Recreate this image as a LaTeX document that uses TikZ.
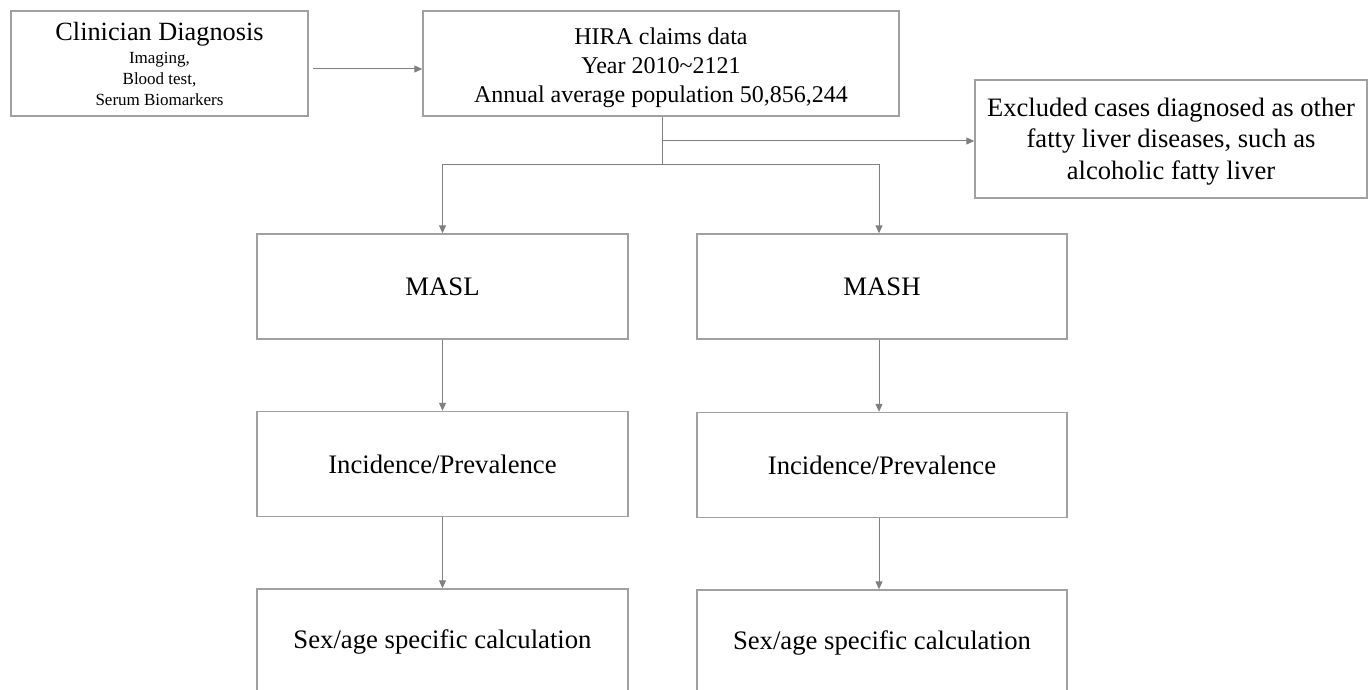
\documentclass[tikz,border=0pt]{standalone}
\usepackage{fontspec}
\setmainfont{Liberation Serif}
\usetikzlibrary{arrows.meta}
\definecolor{boxline}{RGB}{160,160,160}
\definecolor{arrline}{RGB}{128,128,128}
\tikzset{
  box/.style={draw=boxline, line width=1.4pt, rectangle, inner sep=0pt, align=center, text=black},
  arr/.style={draw=arrline, line width=1pt, -{Triangle[length=8pt,width=7pt]}},
  ln/.style={draw=arrline, line width=1pt},
  big/.style={font=\fontsize{26.7}{31}\selectfont},
}
\begin{document}
\begin{tikzpicture}[x=1pt,y=-1pt]
\useasboundingbox (0,0) rectangle (1370,690);
\clip (0,0) rectangle (1370,690);
\node[box, font=\fontsize{17}{21}\selectfont, minimum width=297, minimum height=105] (clin) at (159.5,63.5)
  {{\fontsize{26.3}{28}\selectfont Clinician Diagnosis}\\[2pt]
   Imaging,\\
   Blood test,\\
   Serum Biomarkers};
\node[box, minimum width=476, minimum height=105,
  label={[align=center, font=\fontsize{24}{29}\selectfont, yshift=-4pt]center:HIRA claims data\\Year 2010\textasciitilde2121\\Annual average population 50,856,244}] (hira) at (661,63.5) {};
\node[box, minimum width=392, minimum height=118,
  label={[align=center, font=\fontsize{26.6}{31.5}\selectfont, yshift=-2.5pt]center:Excluded cases diagnosed as other\\fatty liver diseases, such as\\alcoholic fatty liver}] (excl) at (1171,139) {};
\node[box, big, minimum width=371, minimum height=105] (masl) at (442.5,286.5) {MASL};
\node[box, big, minimum width=370, minimum height=105] (mash) at (882,286.5) {MASH};
\node[box, big, minimum width=371, minimum height=105] (ip1) at (442.5,464) {Incidence/Prevalence};
\node[box, big, minimum width=370, minimum height=105] (ip2) at (882,465) {Incidence/Prevalence};
\node[box, big, minimum width=371, minimum height=105] (sa1) at (442.5,641.5) {Sex/age specific calculation};
\node[box, big, minimum width=370, minimum height=105] (sa2) at (882,642.5) {Sex/age specific calculation};

\coordinate (split) at (662,164);
\coordinate (excljoin) at (662,141);
\draw[arr] ([shift={(4,5.5)}]clin.east) -- ([shift={(0,5.5)}]hira.west);
\draw[ln] (hira.south -| split) -- (split);
\draw[arr] (excljoin) -- (excl.west |- excljoin);
\draw[ln] (split -| masl.north) -- ([xshift=-3pt]split -| mash.north);
\draw[arr] (split -| masl.north) -- (masl.north);
\draw[arr] ([xshift=-3pt]split -| mash.north) -- ([xshift=-3pt]mash.north);
\draw[arr] (masl.south) -- (ip1.north);
\draw[arr] (ip1.south) -- (sa1.north);
\draw[arr] ([xshift=-3pt]mash.south) -- ([xshift=-3pt]ip2.north);
\draw[arr] ([xshift=-3pt]ip2.south) -- ([xshift=-3pt]sa2.north);
\end{tikzpicture}
\end{document}
